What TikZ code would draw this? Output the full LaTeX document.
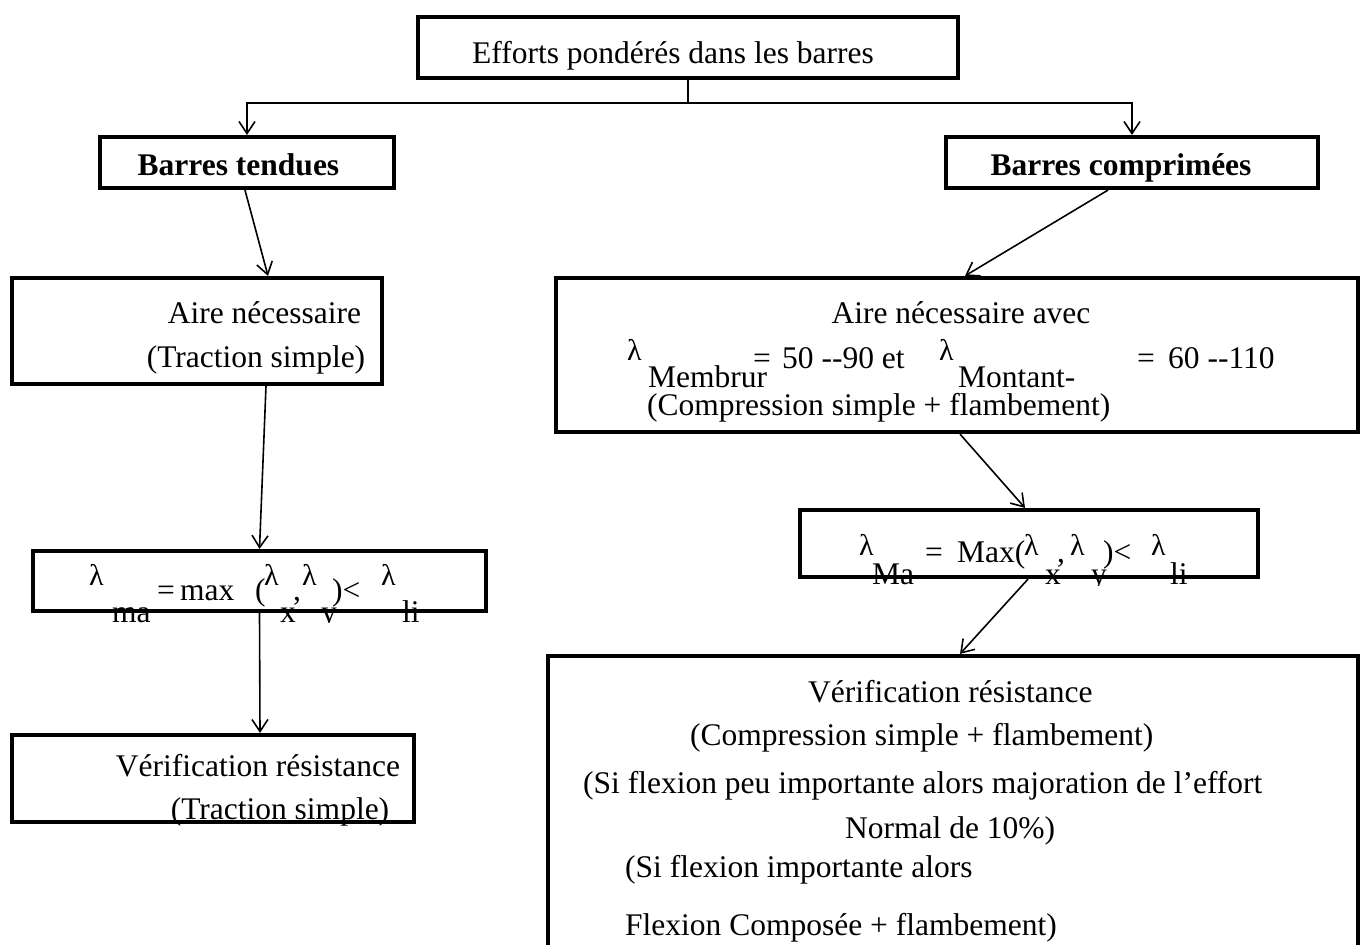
\documentclass[tikz,border=0pt]{standalone}
\usepackage{fontspec}
\newfontfamily\tnr{Liberation Serif}
\usetikzlibrary{arrows.meta}
\begin{document}
\begin{tikzpicture}[x=1pt,y=-1pt,
  box/.style={draw, line width=4.2pt, inner sep=0pt, rectangle},
  conn/.style={line width=1.6pt},
  arr/.style={conn, -{Straight Barb[length=12pt,width=16pt]}},
  txt/.style={inner sep=0pt, font=\tnr\fontsize{31.5}{38}\selectfont},
  lt/.style={txt, anchor=base west},
  ct/.style={txt, anchor=base},
  lam/.style={inner sep=0pt, anchor=base west, font=\tnr\fontsize{30}{34}\selectfont},
  bold/.style={inner sep=0pt, anchor=base, font=\tnr\bfseries\fontsize{31.5}{38}\selectfont}]
\useasboundingbox (0,0) rectangle (1360,945);
\fill[white] (0,0) rectangle (1360,945);

% boxes
\node[box, minimum width=540pt, minimum height=61pt] (top) at (688,47.5) {};
\node[box, minimum width=294pt, minimum height=51pt] (bt) at (247,162.5) {};
\node[box, minimum width=372pt, minimum height=51pt] (bc) at (1132,162.5) {};
\node[box, minimum width=370pt, minimum height=106pt] (an) at (197,331) {};
\node[box, minimum width=802pt, minimum height=154pt] (aa) at (957,355) {};
\node[box, minimum width=453pt, minimum height=60pt] (ll) at (259.5,581) {};
\node[box, minimum width=402pt, minimum height=87pt] (vl) at (213,778.5) {};
\node[box, minimum width=458pt, minimum height=67pt] (rl) at (1029,543.5) {};
\node[box, minimum width=810pt, minimum height=310pt] (vr) at (953,811) {};

% texts
\node[ct] (t1) at (673,63) {Efforts pondérés dans les barres};
\node[bold] (t2) at (238.5,175) {Barres tendues};
\node[bold] (t3) at (1121,175) {Barres comprimées};
\node[ct] (t4) at (264.5,323) {Aire nécessaire};
\node[ct] (t5) at (256,367) {(Traction simple)};
\node[ct] (t6) at (961,323) {Aire nécessaire avec};
\node[lam] (t7) at (627,360) {λ};
\node[lt] (t8) at (648,387) {Membrur};
\node[lt] (t9) at (753,368) {=};
\node[lt] (t10) at (782,368) {50 -\kern0pt-90 et};
\node[lam] (t11) at (939,360) {λ};
\node[lt] (t12) at (958,387) {Montant-};
\node[lt] (t13) at (1137,368) {=};
\node[lt] (t14) at (1168,368) {60 -\kern0pt-110};
\node[lt] (t15) at (647,415) {(Compression simple + flambement)};

\begin{scope}
\clip (20,540) rectangle (500,622);
\node[lam] (l1) at (89,585) {λ};
\node[lt] (l2) at (112,622) {ma};
\node[lt] (l3) at (157,600) {=};
\node[lt] (l4) at (180,600) {max};
\node[lt] (l5) at (255,600) {(};
\node[lam] (l6) at (264,585) {λ};
\node[lt] (l7) at (280,622) {x};
\node[lt] (l8) at (293,600) {,};
\node[lam] (l9) at (302,585) {λ};
\node[lt] (l10) at (321,622) {y};
\node[lt] (l11) at (332,600) {)<};
\node[lam] (l12) at (381,585) {λ};
\node[lt] (l13) at (402,622) {li};
\end{scope}

\begin{scope}
\clip (790,500) rectangle (1270,585);
\node[lam] (r1) at (859,555) {λ};
\node[lt] (r2) at (872,584) {Ma};
\node[lt] (r3) at (925,562) {=};
\node[lt] (r4) at (957,562) {Max(};
\node[lam] (r5) at (1024,555) {λ};
\node[lt] (r6) at (1045,584) {x};
\node[lt] (r7) at (1057,562) {,};
\node[lam] (r8) at (1070,555) {λ};
\node[lt] (r9) at (1091,584) {y};
\node[lt] (r10) at (1103,562) {)<};
\node[lam] (r11) at (1151,555) {λ};
\node[lt] (r12) at (1170,584) {li};
\end{scope}

\node[ct] (v1) at (258,776) {Vérification résistance};
\node[ct] (v2) at (280,819) {(Traction simple)};

\node[lt] (w1) at (808,702) {Vérification résistance};
\node[lt] (w2) at (690,745) {(Compression simple + flambement)};
\node[lt] (w3) at (583,793) {(Si flexion peu importante alors majoration de l’effort};
\node[lt] (w4) at (845,838) {Normal de 10\%)};
\node[lt] (w5) at (625,877) {(Si flexion importante alors};
\node[lt] (w6) at (625,935) {Flexion Composée + flambement)};

% connectors
\coordinate (j) at (688,103);
\draw[conn] (top.south) -- (j);
\draw[arr] (j) -| (bt.north);
\draw[arr] (j) -| (bc.north);
\draw[arr] ([xshift=-2pt]bt.south) -- ([xshift=71pt]an.north);
\draw[arr] ([xshift=-24pt]bc.south) -- ([xshift=8pt]aa.north);
\draw[arr] ([xshift=69pt]an.south) -- (ll.north);
\draw[arr] (ll.south) -- ([xshift=47pt]vl.north);
\draw[arr] ([xshift=3pt]aa.south) -- ([xshift=-4pt]rl.north);
\draw[arr] ([xshift=-1pt]rl.south) -- ([xshift=7pt]vr.north);
\end{tikzpicture}
\end{document}
